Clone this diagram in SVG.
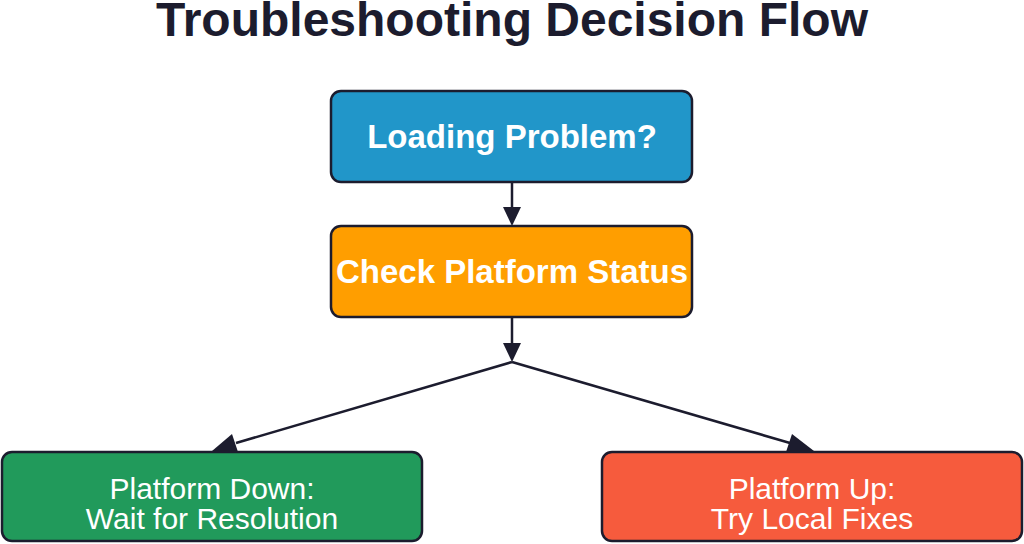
<svg xmlns="http://www.w3.org/2000/svg" width="1024" height="544" viewBox="0 0 1024 544">
<style>
.box{stroke:#1c1c2e;stroke-width:2.5}
.t{font-family:"Liberation Sans",Arial,sans-serif;fill:#fff;text-anchor:middle}
.b{font-weight:bold;font-size:33px}
.r{font-size:30px}
.c{stroke:#1c1c2e;stroke-width:2.5;fill:none}
</style>
<rect width="1024" height="544" fill="#fff"/>
<text x="512" y="36" font-family="Liberation Sans,Arial,sans-serif" font-weight="bold" font-size="48" fill="#1c1c2e" text-anchor="middle">Troubleshooting Decision Flow</text>
<g id="connectors">
<path class="c" d="M512,182 V207"/><path d="M503,207 L521,207 L512,226 z" fill="#1c1c2e"/>
<path class="c" d="M512,317 V343"/><path d="M503,343 L521,343 L512,362 z" fill="#1c1c2e"/>
<path class="c" d="M512,362 L236,443"/><path d="M212,451 L232,434 L238,452 z" fill="#1c1c2e"/>
<path class="c" d="M512,362 L790,443"/><path d="M814,451 L786,452 L792,434 z" fill="#1c1c2e"/>
</g>
<g id="loading"><rect class="box" x="331" y="91" width="361" height="91" rx="10" fill="#2196c9"/><text class="t b" x="512" y="148">Loading Problem?</text></g>
<g id="check"><rect class="box" x="331" y="226" width="361" height="91" rx="10" fill="#ff9e00"/><text class="t b" x="512" y="283">Check Platform Status</text></g>
<g id="down"><rect class="box" x="2" y="452" width="420" height="89" rx="10" fill="#219a5b"/><text class="t r" x="212" y="499">Platform Down:</text><text class="t r" x="212" y="529">Wait for Resolution</text></g>
<g id="up"><rect class="box" x="602" y="452" width="420" height="89" rx="10" fill="#f65b3d"/><text class="t r" x="812" y="499">Platform Up:</text><text class="t r" x="812" y="529">Try Local Fixes</text></g>
</svg>
